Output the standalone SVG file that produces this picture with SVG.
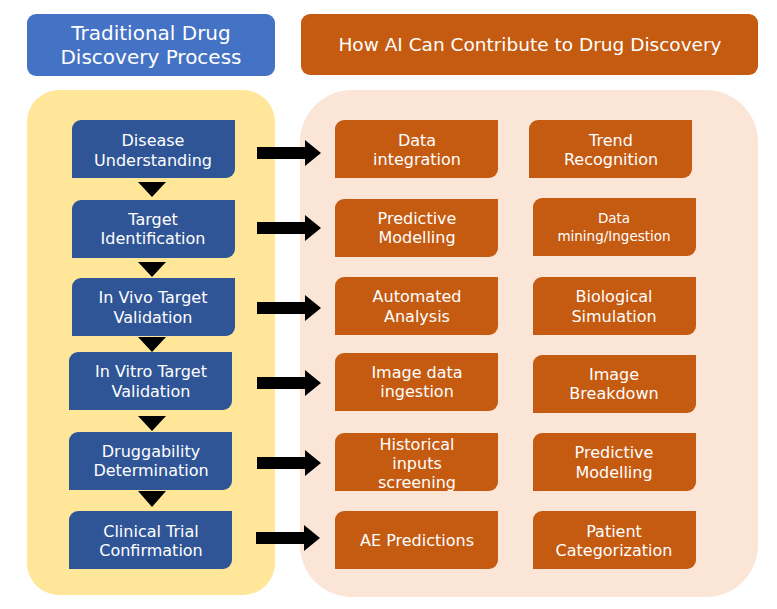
<svg xmlns="http://www.w3.org/2000/svg" width="777" height="609" viewBox="0 0 777 609">
<defs>
<style>
.t{font-family:"DejaVu Sans","Open Sans",sans-serif;fill:#fff;text-anchor:middle}
.n{font-size:16px}
.s{font-size:13.5px}
.hd{font-size:20px}
.hd2{font-size:18.5px}
.blue{fill:#2F5597}
.or{fill:#C55A11}
.tri{fill:#000}
.arr{fill:#000}
</style>
<path id="box" d="M9,0 H163 V49 A9,9 0 0 1 154,58 H0 V9 A9,9 0 0 1 9,0 Z"/>
<path id="ar" d="M0,-6 H48 V-13 L64,0 L48,13 V6 H0 Z"/>
</defs>
<rect width="777" height="609" fill="#fff"/>

<g id="header-left">
<rect x="27" y="14" width="248" height="62" rx="9" fill="#4472C4"/>
<text class="t hd" x="151" y="40">Traditional Drug</text>
<text class="t hd" x="151" y="64">Discovery Process</text>
</g>
<g id="header-right">
<rect x="301" y="14" width="457" height="61" rx="9" fill="#C55A11"/>
<text class="t hd2" x="530" y="51">How AI Can Contribute to Drug Discovery</text>
</g>

<g id="panel-left"><rect x="27" y="90" width="248" height="505" rx="32" fill="#FFE699"/></g>
<g id="panel-right"><rect x="300" y="90" width="458" height="507" rx="52" fill="#FBE5D6"/></g>

<g id="step1"><use href="#box" x="72" y="120" class="blue"/><text class="t n" x="153" y="146">Disease</text><text class="t n" x="153" y="166">Understanding</text></g>
<g id="step2"><use href="#box" x="72" y="200" class="blue"/><text class="t n" x="153" y="225">Target</text><text class="t n" x="153" y="244">Identification</text></g>
<g id="step3"><use href="#box" x="72" y="278" class="blue"/><text class="t n" x="153" y="303">In Vivo Target</text><text class="t n" x="153" y="323">Validation</text></g>
<g id="step4"><use href="#box" x="69" y="352" class="blue"/><text class="t n" x="151" y="377">In Vitro Target</text><text class="t n" x="151" y="397">Validation</text></g>
<g id="step5"><use href="#box" x="69" y="432" class="blue"/><text class="t n" x="151" y="457">Druggability</text><text class="t n" x="151" y="476">Determination</text></g>
<g id="step6"><use href="#box" x="69" y="511" class="blue"/><text class="t n" x="151" y="537">Clinical Trial</text><text class="t n" x="151" y="556">Confirmation</text></g>

<g id="ai1"><use href="#box" x="335" y="120" class="or"/><text class="t n" x="417" y="146">Data</text><text class="t n" x="417" y="165">integration</text></g>
<g id="ai2"><use href="#box" x="529" y="120" class="or"/><text class="t n" x="611" y="146">Trend</text><text class="t n" x="611" y="165">Recognition</text></g>
<g id="ai3"><use href="#box" x="335" y="199" class="or"/><text class="t n" x="417" y="224">Predictive</text><text class="t n" x="417" y="243">Modelling</text></g>
<g id="ai4"><use href="#box" x="533" y="198" class="or"/><text class="t s" x="614" y="223">Data</text><text class="t s" x="614" y="241">mining/Ingestion</text></g>
<g id="ai5"><use href="#box" x="335" y="277" class="or"/><text class="t n" x="417" y="302">Automated</text><text class="t n" x="417" y="322">Analysis</text></g>
<g id="ai6"><use href="#box" x="533" y="277" class="or"/><text class="t n" x="614" y="302">Biological</text><text class="t n" x="614" y="322">Simulation</text></g>
<g id="ai7"><use href="#box" x="335" y="353" class="or"/><text class="t n" x="417" y="378">Image data</text><text class="t n" x="417" y="397">ingestion</text></g>
<g id="ai8"><use href="#box" x="533" y="355" class="or"/><text class="t n" x="614" y="380">Image</text><text class="t n" x="614" y="399">Breakdown</text></g>
<g id="ai9"><use href="#box" x="335" y="433" class="or"/><text class="t n" x="417" y="450">Historical</text><text class="t n" x="417" y="469">inputs</text><text class="t n" x="417" y="488">screening</text></g>
<g id="ai10"><use href="#box" x="533" y="433" class="or"/><text class="t n" x="614" y="458">Predictive</text><text class="t n" x="614" y="478">Modelling</text></g>
<g id="ai11"><use href="#box" x="335" y="511" class="or"/><text class="t n" x="417" y="546">AE Predictions</text></g>
<g id="ai12"><use href="#box" x="533" y="511" class="or"/><text class="t n" x="614" y="537">Patient</text><text class="t n" x="614" y="556">Categorization</text></g>

<g id="connectors">
<polygon class="tri" points="138,182 166,182 152,197"/>
<polygon class="tri" points="138,262 166,262 152,277"/>
<polygon class="tri" points="138,337 166,337 152,352"/>
<polygon class="tri" points="138,416 166,416 152,431"/>
<polygon class="tri" points="138,491 166,491 152,507"/>
<use href="#ar" class="arr" x="257" y="153"/>
<use href="#ar" class="arr" x="257" y="228"/>
<use href="#ar" class="arr" x="257" y="308"/>
<use href="#ar" class="arr" x="257" y="383"/>
<use href="#ar" class="arr" x="257" y="463"/>
<use href="#ar" class="arr" x="256" y="538"/>
</g>
</svg>
